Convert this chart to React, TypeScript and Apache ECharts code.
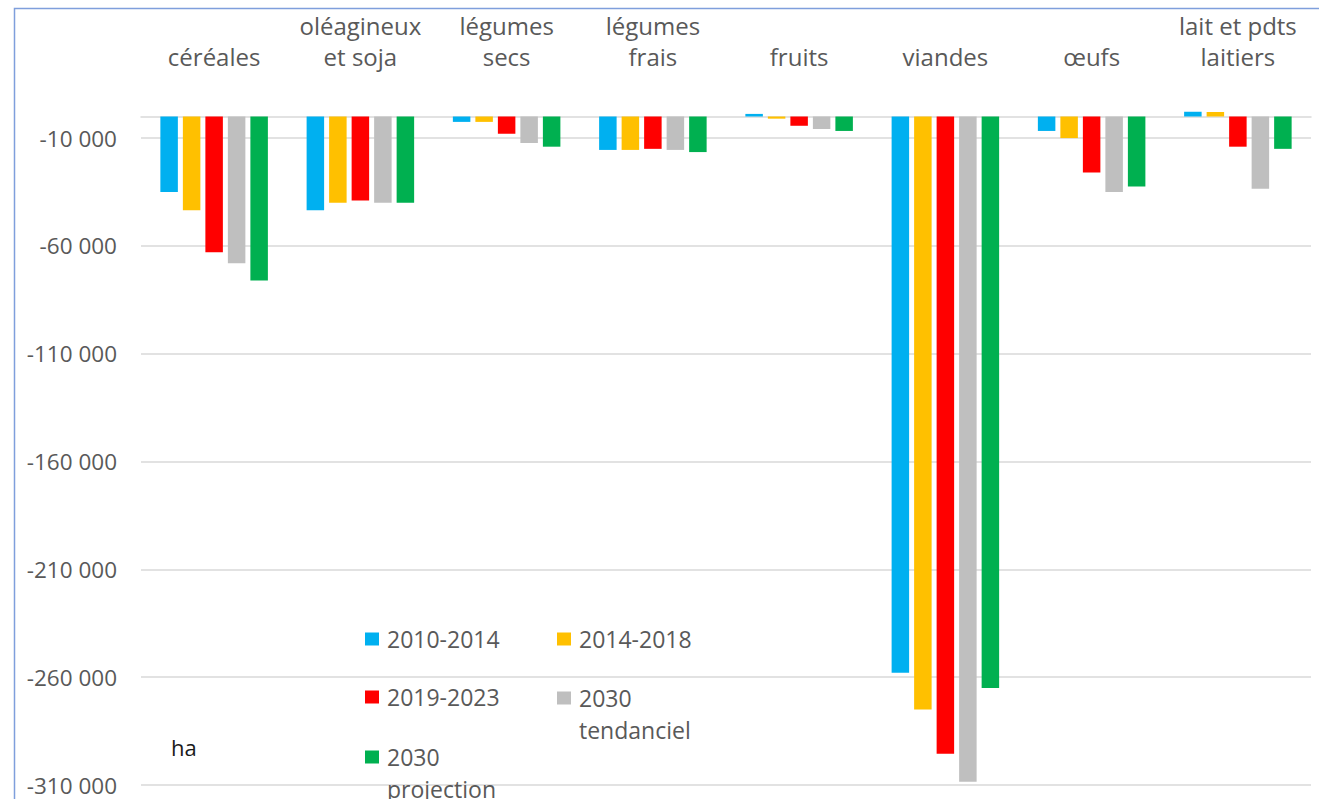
import React, { useEffect, useRef } from 'react';
import * as echarts from 'echarts';

const categories = [
  'céréales',
  'oléagineux\net soja',
  'légumes\nsecs',
  'légumes\nfrais',
  'fruits',
  'viandes',
  'œufs',
  'lait et pdts\nlaitiers',
];

const seriesNames = ['2010-2014', '2014-2018', '2019-2023', '2030 tendanciel', '2030 projection'];
const seriesColors = ['#00b0f0', '#ffc000', '#ff0000', '#bfbfbf', '#00b050'];

const values2010_2014 = [-35000, -43500, -2500, -15500, 1200, -258000, -6700, 2200];
const values2014_2018 = [-43500, -40000, -2500, -15500, -1000, -275000, -10000, 2100];
const values2019_2023 = [-63000, -39000, -8000, -15000, -4300, -295500, -26000, -14000];
const values2030_tendanciel = [-68000, -40000, -12300, -15500, -5800, -308500, -35000, -33500];
const values2030_projection = [-76000, -40000, -14000, -16500, -6700, -265000, -32500, -15000];

const seriesValues = [
  values2010_2014,
  values2014_2018,
  values2019_2023,
  values2030_tendanciel,
  values2030_projection,
];

const tickValues = [-10000, -60000, -110000, -160000, -210000, -260000, -310000];
const axisMin = -310000;
const axisMax = 0;
const unitLabel = 'ha';

const legendLabels: Record<string, string> = {
  '2030 tendanciel': '\n2030\ntendanciel',
  '2030 projection': '\n2030\nprojection',
};

function formatNumber(v: number): string {
  const s = Math.abs(Math.round(v))
    .toString()
    .replace(/\B(?=(\d{3})+(?!\d))/g, ' ');
  return (v < 0 ? '-' : '') + s;
}

const FONT = '"Open Sans", "Noto Sans", sans-serif';
const TEXT_COLOR = '#595959';

export default function App() {
  const ref = useRef<HTMLDivElement>(null);

  useEffect(() => {
    if (!ref.current) return;
    const chart = echarts.init(ref.current, undefined, { renderer: 'svg' });

    const legendPos = [
      { left: 365, top: 623 },
      { left: 557, top: 623 },
      { left: 365, top: 681 },
      { left: 557, top: 650 },
      { left: 365, top: 709 },
    ];

    const option: any = {
      animation: false,
      backgroundColor: '#ffffff',
      textStyle: { fontFamily: FONT },
      grid: {
        left: 141,
        right: 8,
        top: 116.5,
        bottom: 14,
        containLabel: false,
        outerBoundsMode: 'none',
      },
      xAxis: {
        type: 'category',
        position: 'top',
        data: categories,
        axisTick: { show: false },
        axisLine: { show: true, lineStyle: { color: '#d9d9d9', width: 1.5 } },
        axisLabel: {
          color: TEXT_COLOR,
          fontSize: 24,
          fontFamily: FONT,
          lineHeight: 31,
          margin: 45,
          interval: 0,
        },
        splitLine: { show: false },
      },
      yAxis: {
        type: 'value',
        min: axisMin,
        max: axisMax,
        axisLine: { show: false },
        axisTick: { show: false, customValues: tickValues },
        axisLabel: {
          customValues: tickValues,
          color: TEXT_COLOR,
          fontSize: 22.5,
          fontFamily: FONT,
          margin: 24,
          formatter: (v: number) => formatNumber(v),
        },
        splitLine: { show: true, lineStyle: { color: '#d9d9d9', width: 1.5 } },
      },
      legend: seriesNames.map((name, i) => ({
        show: true,
        data: [name],
        left: legendPos[i].left,
        top: legendPos[i].top,
        orient: 'horizontal',
        icon: 'rect',
        itemWidth: 14,
        itemHeight: 13,
        padding: 0,
        selectedMode: false,
        formatter: (n: string) => legendLabels[n] || n,
        textStyle: {
          color: TEXT_COLOR,
          fontSize: 23,
          fontFamily: FONT,
          lineHeight: 32,
          padding: [0, 0, 0, 3],
        },
      })),
      graphic: [
        {
          type: 'rect',
          silent: true,
          shape: { x: 14.5, y: 8.5, width: 1400, height: 900 },
          style: { fill: 'none', stroke: '#7f9fdc', lineWidth: 1.5 },
          z: 100,
        },
        {
          type: 'text',
          left: 171,
          top: 736,
          style: {
            text: unitLabel,
            fill: '#1a1a1a',
            fontSize: 22,
            fontFamily: FONT,
          },
        },
      ],
      series: seriesNames.map((name, i) => ({
        name,
        type: 'bar',
        data: seriesValues[i],
        barWidth: 17.5,
        barGap: '28.6%',
        clip: false,
        itemStyle: { color: seriesColors[i] },
      })),
    };

    chart.setOption(option);
    return () => {
      chart.dispose();
    };
  }, []);

  return (
    <div
      ref={ref}
      style={{ position: 'fixed', left: 0, top: 0, width: 1319, height: 799 }}
    />
  );
}
